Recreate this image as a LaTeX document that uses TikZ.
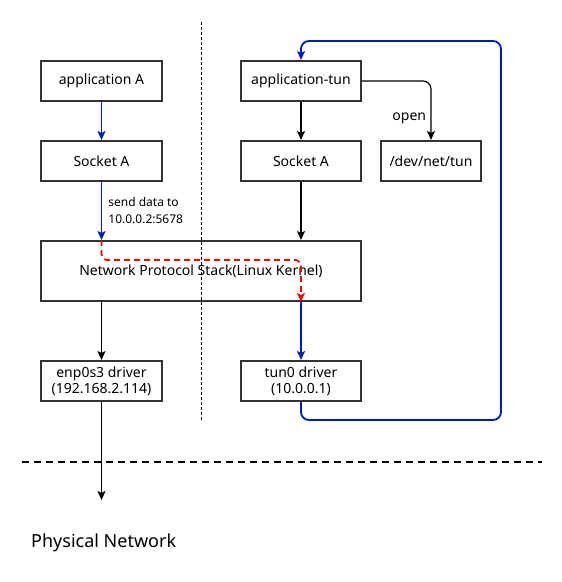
\documentclass[tikz,border=0pt]{standalone}
\usepackage{fontspec}
\setmainfont{Noto Sans}
\usepackage{tikz}
\usetikzlibrary{arrows.meta,calc,positioning}

\definecolor{flowblue}{RGB}{0,29,188}

\begin{document}
\begin{tikzpicture}[x=1pt,y=-1pt,>={Stealth[length=9pt,width=8pt,inset=2pt]},
  every node/.style={font=\fontsize{14}{16}\selectfont},
  box/.style={draw=black!80,line width=2pt,minimum width=121pt,minimum height=40pt,inner sep=0,align=center},
  link/.style={->,line width=1.6pt},
  flow/.style={->,line width=1.8pt,draw=flowblue},
  packet/.style={->,line width=1.8pt,draw=red,dash pattern=on 6pt off 4pt,rounded corners=6}]
\useasboundingbox (0,0) rectangle (562,582);

% separators
\draw[line width=1pt,dash pattern=on 2.5pt off 2.5pt] (201,22) -- (201,420);
\draw[line width=1.8pt,dash pattern=on 7pt off 5pt] (22,462) -- (542,462);

% left side
\node[box] (appA) at (101.5,81) {application A};
\node[box] (sockA) at (101.5,161) {Socket A};
\node[box,minimum width=320pt,minimum height=60pt] (stack) at (201,271) {Network Protocol Stack(Linux Kernel)};
\node[box] (enp) at (101.5,381) {enp0s3 driver\\(192.168.2.114)};

% right side
\node[box,minimum width=120pt] (apptun) at (301,81) {application-tun};
\node[box,minimum width=120pt] (socktun) at (301,161) {Socket A};
\node[box,minimum width=100pt] (devtun) at (431,161) {/dev/net/tun};
\node[box,minimum width=120pt] (tundrv) at (301,381) {tun0 driver\\(10.0.0.1)};

\node[anchor=west,inner sep=0,font=\fontsize{18}{20}\selectfont] (phys) at (31,543) {Physical Network};
\coordinate (wire) at (101.5,500);

\draw[flow] (appA) -- (sockA);
\draw[flow] (sockA) -- (sockA |- stack.north)
  node[pos=0.5,right=6pt,align=left,inner sep=0,font=\fontsize{12}{17}\selectfont] {send data to\\10.0.0.2:5678};
\draw[link] (apptun) -- (socktun);
\draw[link] (socktun) -- (socktun |- stack.north);
\draw[link,line width=1.2pt,rounded corners=8] (apptun.east) -| (devtun.north)
  node[pos=0.82,left=1pt] {open};
\draw[packet] (sockA |- stack.north) -- ++(0,20) -| (stack.south -| tundrv);
\draw[flow] (stack.south -| tundrv) -- (tundrv);
\draw[link] (stack.south -| enp) -- (enp);
\draw[link] (enp) -- (wire);

% loop back to application-tun
\coordinate (loopR) at (501,420);
\coordinate (loopT) at (301,41);
\draw[flow,rounded corners=8] (tundrv.south) |- (loopR) |- (loopT) -- (apptun.north);
\end{tikzpicture}
\end{document}
